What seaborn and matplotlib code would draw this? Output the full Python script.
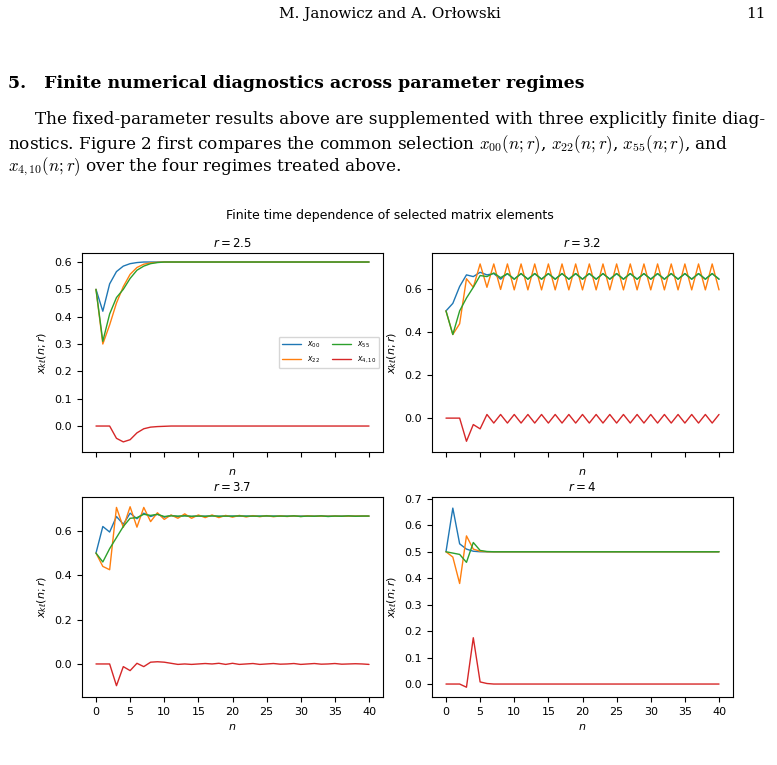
import numpy as np
import pandas as pd
import seaborn as sns
import matplotlib
matplotlib.use("Agg")
import matplotlib.pyplot as plt

sns.set_style("ticks")
plt.rcParams['font.family'] = ['DejaVu Sans']
plt.rcParams['mathtext.fontset'] = 'dejavusans'
for key in ['text.color', 'axes.labelcolor', 'xtick.color', 'ytick.color', 'axes.edgecolor']:
    plt.rcParams[key] = 'black'

n = list(range(41))
regimes = ["2.5", "3.2", "3.7", "4"]
labels = ["$x_{00}$", "$x_{22}$", "$x_{55}$", "$x_{4,10}$"]

# r = 2.5
r25_x00 = [0.5, 0.42, 0.52, 0.565, 0.585, 0.594, 0.598, 0.6, 0.6, 0.6, 0.6, 0.6, 0.6, 0.6, 0.6, 0.6, 0.6, 0.6, 0.6, 0.6, 0.6,
           0.6, 0.6, 0.6, 0.6, 0.6, 0.6, 0.6, 0.6, 0.6, 0.6, 0.6, 0.6, 0.6, 0.6, 0.6, 0.6, 0.6, 0.6, 0.6, 0.6]
r25_x22 = [0.5, 0.30, 0.37, 0.45, 0.51, 0.555, 0.58, 0.592, 0.597, 0.599, 0.6, 0.6, 0.6, 0.6, 0.6, 0.6, 0.6, 0.6, 0.6, 0.6, 0.6,
           0.6, 0.6, 0.6, 0.6, 0.6, 0.6, 0.6, 0.6, 0.6, 0.6, 0.6, 0.6, 0.6, 0.6, 0.6, 0.6, 0.6, 0.6, 0.6, 0.6]
r25_x55 = [0.5, 0.31, 0.41, 0.47, 0.50, 0.54, 0.57, 0.585, 0.594, 0.598, 0.6, 0.6, 0.6, 0.6, 0.6, 0.6, 0.6, 0.6, 0.6, 0.6, 0.6,
           0.6, 0.6, 0.6, 0.6, 0.6, 0.6, 0.6, 0.6, 0.6, 0.6, 0.6, 0.6, 0.6, 0.6, 0.6, 0.6, 0.6, 0.6, 0.6, 0.6]
r25_x410 = [0, 0, 0, -0.045, -0.058, -0.05, -0.025, -0.01, -0.004, -0.002, -0.001, 0, 0, 0, 0, 0, 0, 0, 0, 0, 0,
            0, 0, 0, 0, 0, 0, 0, 0, 0, 0, 0, 0, 0, 0, 0, 0, 0, 0, 0, 0]

# r = 3.2
r32_x00 = [0.5, 0.535, 0.614, 0.668, 0.66, 0.68, 0.668, 0.674, 0.648, 0.674, 0.648, 0.674, 0.648, 0.674, 0.648, 0.674, 0.648,
           0.674, 0.648, 0.674, 0.648, 0.674, 0.648, 0.674, 0.648, 0.674, 0.648, 0.674, 0.648, 0.674, 0.648, 0.674, 0.648,
           0.674, 0.648, 0.674, 0.648, 0.674, 0.648, 0.674, 0.648]
r32_x22 = [0.5, 0.39, 0.44, 0.65, 0.61, 0.719, 0.61, 0.719, 0.60, 0.719, 0.598, 0.719, 0.598, 0.719, 0.598, 0.719, 0.598,
           0.719, 0.598, 0.719, 0.598, 0.719, 0.598, 0.719, 0.598, 0.719, 0.598, 0.719, 0.598, 0.719, 0.598, 0.719, 0.598,
           0.719, 0.598, 0.719, 0.598, 0.719, 0.598, 0.719, 0.598]
r32_x55 = [0.5, 0.39, 0.50, 0.56, 0.61, 0.665, 0.66, 0.677, 0.655, 0.674, 0.648, 0.674, 0.648, 0.674, 0.648, 0.674, 0.648,
           0.674, 0.648, 0.674, 0.648, 0.674, 0.648, 0.674, 0.648, 0.674, 0.648, 0.674, 0.648, 0.674, 0.648, 0.674, 0.648,
           0.674, 0.648, 0.674, 0.648, 0.674, 0.648, 0.674, 0.648]
r32_x410 = [0, 0, 0, -0.108, -0.03, -0.05, 0.017, -0.023, 0.017, -0.023, 0.017, -0.023, 0.017, -0.023, 0.017, -0.023, 0.017,
            -0.023, 0.017, -0.023, 0.017, -0.023, 0.017, -0.023, 0.017, -0.023, 0.017, -0.023, 0.017, -0.023, 0.017, -0.023,
            0.017, -0.023, 0.017, -0.023, 0.017, -0.023, 0.017, -0.023, 0.017]

# r = 3.7
r37_x00 = [0.5, 0.62, 0.595, 0.665, 0.63, 0.68, 0.655, 0.68, 0.665, 0.675, 0.662, 0.67, 0.664, 0.669, 0.665, 0.668, 0.666,
           0.668, 0.666, 0.667, 0.667, 0.667, 0.667, 0.667, 0.667, 0.667, 0.667, 0.667, 0.667, 0.667, 0.667, 0.667, 0.667,
           0.667, 0.667, 0.667, 0.667, 0.667, 0.667, 0.667, 0.667]
r37_x22 = [0.5, 0.44, 0.425, 0.706, 0.616, 0.709, 0.617, 0.706, 0.642, 0.682, 0.652, 0.672, 0.657, 0.677, 0.657, 0.672, 0.660,
           0.672, 0.660, 0.670, 0.662, 0.670, 0.663, 0.669, 0.664, 0.669, 0.664, 0.668, 0.665, 0.668, 0.665, 0.668, 0.666,
           0.667, 0.666, 0.667, 0.666, 0.667, 0.667, 0.667, 0.667]
r37_x55 = [0.5, 0.46, 0.52, 0.57, 0.62, 0.657, 0.66, 0.675, 0.67, 0.675, 0.665, 0.668, 0.667, 0.668, 0.666, 0.667, 0.666,
           0.668, 0.666, 0.667, 0.666, 0.668, 0.666, 0.667, 0.666, 0.668, 0.666, 0.667, 0.666, 0.668, 0.665, 0.667, 0.666,
           0.668, 0.665, 0.667, 0.666, 0.668, 0.666, 0.667, 0.667]
r37_x410 = [0, 0, 0, -0.098, -0.012, -0.03, 0.003, -0.012, 0.008, 0.01, 0.008, 0.003, -0.002, 0.0, -0.002, 0.0, 0.002,
            0.0, 0.003, -0.002, 0.003, -0.002, 0.0, 0.002, -0.002, 0.0, 0.002, -0.001, 0.0, 0.002, -0.002, 0.0, 0.002,
            -0.001, 0.0, 0.002, -0.001, 0.0, 0.001, 0.0, -0.002]

# r = 4
r4_x00 = [0.5, 0.665, 0.53, 0.51, 0.502, 0.5, 0.5, 0.5, 0.5, 0.5, 0.5, 0.5, 0.5, 0.5, 0.5, 0.5, 0.5, 0.5, 0.5, 0.5, 0.5,
          0.5, 0.5, 0.5, 0.5, 0.5, 0.5, 0.5, 0.5, 0.5, 0.5, 0.5, 0.5, 0.5, 0.5, 0.5, 0.5, 0.5, 0.5, 0.5, 0.5]
r4_x22 = [0.5, 0.48, 0.38, 0.56, 0.51, 0.502, 0.5, 0.5, 0.5, 0.5, 0.5, 0.5, 0.5, 0.5, 0.5, 0.5, 0.5, 0.5, 0.5, 0.5, 0.5,
          0.5, 0.5, 0.5, 0.5, 0.5, 0.5, 0.5, 0.5, 0.5, 0.5, 0.5, 0.5, 0.5, 0.5, 0.5, 0.5, 0.5, 0.5, 0.5, 0.5]
r4_x55 = [0.5, 0.495, 0.49, 0.46, 0.535, 0.505, 0.501, 0.5, 0.5, 0.5, 0.5, 0.5, 0.5, 0.5, 0.5, 0.5, 0.5, 0.5, 0.5, 0.5, 0.5,
          0.5, 0.5, 0.5, 0.5, 0.5, 0.5, 0.5, 0.5, 0.5, 0.5, 0.5, 0.5, 0.5, 0.5, 0.5, 0.5, 0.5, 0.5, 0.5, 0.5]
r4_x410 = [0, 0, 0, -0.012, 0.175, 0.008, 0.002, 0, 0, 0, 0, 0, 0, 0, 0, 0, 0, 0, 0, 0, 0,
           0, 0, 0, 0, 0, 0, 0, 0, 0, 0, 0, 0, 0, 0, 0, 0, 0, 0, 0, 0]

series = {
    "2.5": [r25_x00, r25_x22, r25_x55, r25_x410],
    "3.2": [r32_x00, r32_x22, r32_x55, r32_x410],
    "3.7": [r37_x00, r37_x22, r37_x55, r37_x410],
    "4": [r4_x00, r4_x22, r4_x55, r4_x410],
}

rows = []
for r in regimes:
    for lab, vals in zip(labels, series[r]):
        for i, v in zip(n, vals):
            rows.append({"r": r, "n": i, "elem": lab, "val": v})
df = pd.DataFrame(rows)

W, H = 777, 765
fig = plt.figure(figsize=(W / 100, H / 100), dpi=100)

def ax_at(l, t, r, b):
    return fig.add_axes([l / W, 1 - b / H, (r - l) / W, (b - t) / H])

axes = [ax_at(82, 253, 383, 452), ax_at(432, 253, 733, 452),
        ax_at(82, 497, 383, 697), ax_at(432, 497, 733, 697)]
ylims = [(-0.095, 0.633), (-0.158, 0.77), (-0.149, 0.753), (-0.049, 0.707)]
pal = ["#1f77b4", "#ff7f0e", "#2ca02c", "#d62728"]

for k, (ax, r) in enumerate(zip(axes, regimes)):
    sub = df[df.r == r]
    sns.lineplot(data=sub, x="n", y="val", hue="elem", hue_order=labels, palette=pal,
                 ax=ax, linewidth=1.0, legend=(k == 0))
    ax.set_ylim(*ylims[k])
    ax.set_xlim(-2.05, 42.05)
    ax.set_xticks(range(0, 41, 5))
    if k < 2:
        ax.set_xticklabels([])
    ax.set_title(f"$r = {r}$", fontsize=8.5, pad=4)
    ax.set_xlabel("$n$", fontsize=8)
    ax.set_ylabel("$x_{k\\ell}(n;r)$", fontsize=8)
    ax.tick_params(labelsize=8, length=3.5)
    for s in ax.spines.values():
        s.set_visible(True)
        s.set_linewidth(0.8)
    if k == 0:
        ax.legend(loc="center right", ncol=2, fontsize=5.5, frameon=True, title=None,
                  handlelength=2.5, columnspacing=1.5)

fig.text(390 / W, 1 - 215 / H, "Finite time dependence of selected matrix elements",
         ha="center", va="center", fontsize=9)

# page text
plt.rcParams['mathtext.fontset'] = 'cm'
fig.text(390 / W, 1 - 14 / H, "M. Janowicz and A. Orłowski", ha="center", va="center",
         fontsize=11, family="DejaVu Serif")
fig.text(766 / W, 1 - 14 / H, "11", ha="right", va="center", fontsize=11, family="DejaVu Serif")
fig.text(8 / W, 1 - 83 / H, "5.   Finite numerical diagnostics across parameter regimes",
         ha="left", va="center", fontsize=12.5, fontweight="bold", family="DejaVu Serif")
fig.text(35 / W, 1 - 120 / H,
         "The fixed-parameter results above are supplemented with three explicitly finite diag-",
         ha="left", va="center", fontsize=12.2, family="DejaVu Serif")
fig.text(8 / W, 1 - 145 / H,
         r"nostics. Figure 2 first compares the common selection $x_{00}(n;r)$, $x_{22}(n;r)$, $x_{55}(n;r)$, and",
         ha="left", va="center", fontsize=12.2, family="DejaVu Serif")
fig.text(8 / W, 1 - 167 / H,
         r"$x_{4,10}(n;r)$ over the four regimes treated above.",
         ha="left", va="center", fontsize=12.2, family="DejaVu Serif")

fig.savefig("out.png", dpi=100)
